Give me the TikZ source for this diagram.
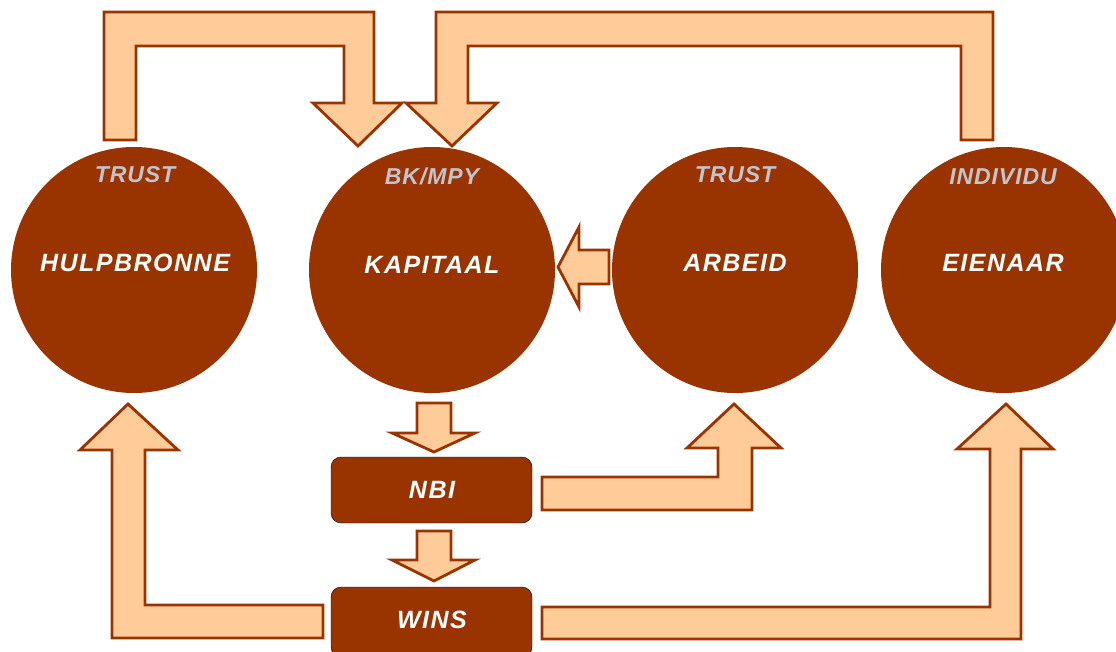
\documentclass[tikz,border=0pt]{standalone}
\usepackage{fontspec}
\setmainfont{Liberation Sans}
\newfontfamily\lblfont[LetterSpace=6]{Liberation Sans}
\newfontfamily\sublblfont[LetterSpace=4]{Liberation Sans}
\definecolor{brn}{RGB}{153,51,0}
\definecolor{peach}{RGB}{255,204,153}
\definecolor{lgray}{RGB}{196,196,206}
\begin{document}
\begin{tikzpicture}[x=1pt,y=-1pt,
  circ/.style={circle,fill=brn,minimum size=246pt,inner sep=0pt},
  mainlbl/.style={text=white,font=\lblfont\bfseries\itshape\fontsize{25}{25}\selectfont,inner sep=0pt},
  sublbl/.style={text=lgray,font=\sublblfont\bfseries\itshape\fontsize{23}{23}\selectfont,inner sep=0pt},
  boxnode/.style={fill=brn,rounded corners=10pt,inner sep=0pt},
  blockarrow/.style={fill=peach,draw=brn,line width=2.8pt,line join=miter}]
\useasboundingbox (0,0) rectangle (1116,652);
\clip (0,0) rectangle (1116,652);
% circles
\node[circ] (hulp) at (134,270) {};
\node[circ] (kap) at (432,270) {};
\node[circ] (arb) at (735,270) {};
\node[circ] (eien) at (1004,270) {};
% labels
\node[sublbl] (hulpt) at (135,175) {TRUST};
\node[mainlbl] (hulpl) at (135,263) {HULPBRONNE};
\node[sublbl] (kapt) at (432,176) {BK/MPY};
\node[mainlbl] (kapl) at (432,265) {KAPITAAL};
\node[sublbl] (arbt) at (735,175) {TRUST};
\node[mainlbl] (arbl) at (735,263) {ARBEID};
\node[sublbl] (eient) at (1003,177) {INDIVIDU};
\node[mainlbl] (eienl) at (1003,263) {EIENAAR};
% boxes
\draw[boxnode] (331,457) rectangle (532,523);
\node[mainlbl] (nbi) at (432,490) {NBI};
\draw[boxnode] (331,587) rectangle (532,657);
\node[mainlbl] (wins) at (432,620) {WINS};
% block arrows
\draw[blockarrow] (104,140) -- (104,12) -- (374,12) -- (374,103) -- (402,103) -- (358,146) -- (313,103) -- (344,103) -- (344,46) -- (136,46) -- (136,140) -- cycle;
\draw[blockarrow] (993,140) -- (993,12) -- (436,12) -- (436,103) -- (406,103) -- (452,146) -- (497,103) -- (468,103) -- (468,46) -- (961,46) -- (961,140) -- cycle;
\draw[blockarrow] (609,250) -- (579,250) -- (579,227) -- (558,267) -- (579,307) -- (579,284) -- (609,284) -- cycle;
\draw[blockarrow] (417,403) -- (451,403) -- (451,433) -- (475,433) -- (434,452) -- (392,433) -- (417,433) -- cycle;
\draw[blockarrow] (417,531) -- (451,531) -- (451,560) -- (475,560) -- (434,581) -- (392,560) -- (417,560) -- cycle;
\draw[blockarrow] (542,477) -- (718,477) -- (718,448) -- (687,448) -- (734,404) -- (781,448) -- (752,448) -- (752,510) -- (542,510) -- cycle;
\draw[blockarrow] (323,605) -- (145,605) -- (145,450) -- (178,450) -- (128,404) -- (80,450) -- (112,450) -- (112,638) -- (323,638) -- cycle;
\draw[blockarrow] (542,607) -- (990,607) -- (990,449) -- (957,449) -- (1006,404) -- (1053,449) -- (1021,449) -- (1021,639) -- (542,639) -- cycle;
\end{tikzpicture}
\end{document}
